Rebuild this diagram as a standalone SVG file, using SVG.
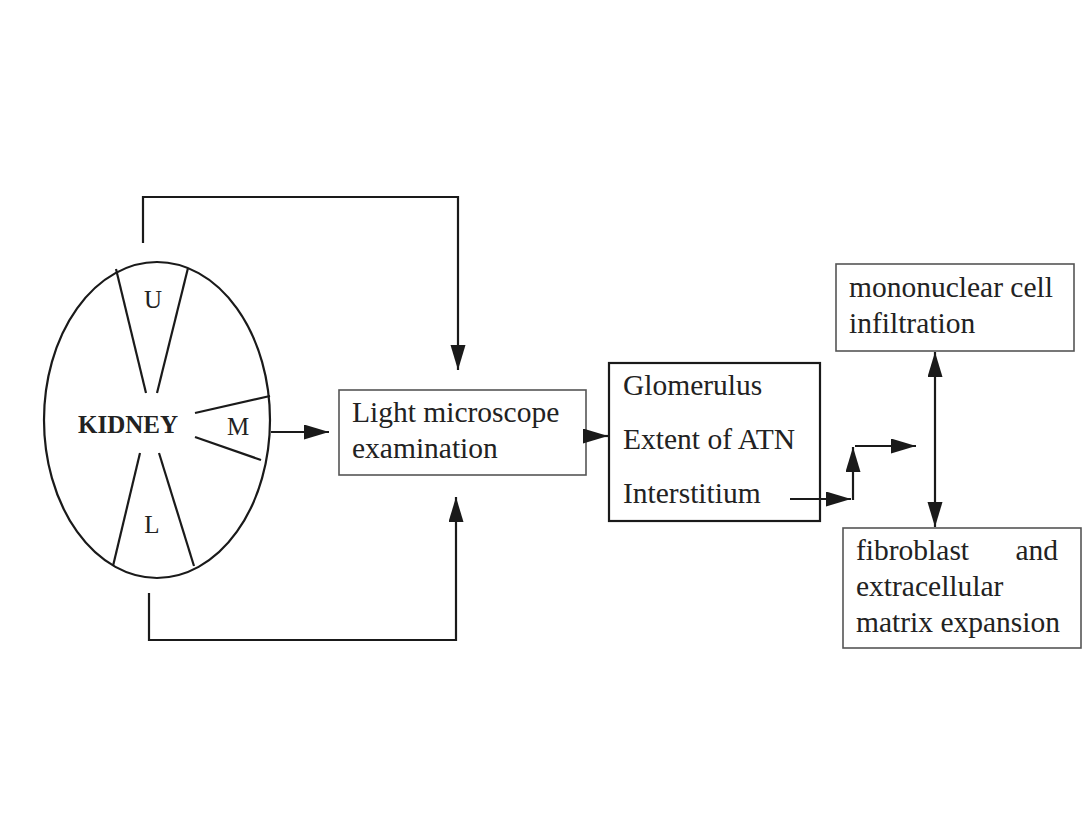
<svg xmlns="http://www.w3.org/2000/svg" width="1087" height="815" viewBox="0 0 1087 815">
<defs>
<marker id="ah" markerUnits="userSpaceOnUse" markerWidth="26" markerHeight="16" refX="25" refY="7.5" orient="auto-start-reverse">
<path d="M0,0 L25,7.5 L0,15 z" fill="#1a1a1a"/>
</marker>
</defs>
<style>
text{font-family:"Liberation Serif","Times New Roman",serif;fill:#222;font-size:29.5px}
.lbl{font-size:25px}
.bold{font-weight:bold}
.ln{stroke:#1a1a1a;stroke-width:2.2;fill:none}
.box{fill:#fff;stroke:#555;stroke-width:1.6}
.boxs{fill:#fff;stroke:#1a1a1a;stroke-width:2.2}
</style>
<rect width="1087" height="815" fill="#fff"/>
<g id="kidney">
<ellipse cx="157" cy="420" rx="113" ry="158" class="ln"/>
<line x1="116" y1="269" x2="146" y2="393" class="ln"/>
<line x1="188" y1="268" x2="157" y2="393" class="ln"/>
<line x1="195" y1="413" x2="270" y2="396" class="ln"/>
<line x1="195" y1="437" x2="261" y2="460" class="ln"/>
<line x1="140" y1="453" x2="113" y2="566" class="ln"/>
<line x1="159" y1="453" x2="194" y2="566" class="ln"/>
<text x="153" y="308" class="lbl" text-anchor="middle">U</text>
<text x="128" y="433" class="lbl bold" text-anchor="middle">KIDNEY</text>
<text x="238" y="435" class="lbl" text-anchor="middle">M</text>
<text x="152" y="533" class="lbl" text-anchor="middle">L</text>
</g>
<g id="light">
<rect x="339" y="390" width="247" height="85" class="box"/>
<text x="352" y="422">Light microscope</text>
<text x="352" y="458">examination</text>
</g>
<g id="findings">
<rect x="609" y="363" width="211" height="158" class="boxs"/>
<text x="623" y="395">Glomerulus</text>
<text x="623" y="449">Extent of ATN</text>
<text x="623" y="503">Interstitium</text>
</g>
<g id="mononuclear">
<rect x="836" y="264" width="238" height="87" class="box"/>
<text x="849" y="297">mononuclear cell</text>
<text x="849" y="333">infiltration</text>
</g>
<g id="fibroblast">
<rect x="843" y="528" width="238" height="120" class="box"/>
<text x="856" y="560">fibroblast</text>
<text x="1058" y="560" text-anchor="end">and</text>
<text x="856" y="596">extracellular</text>
<text x="856" y="632">matrix expansion</text>
</g>
<g id="connectors">
<path d="M143,243 V197 H458 V370" class="ln" marker-end="url(#ah)"/>
<path d="M149,593 V640 H456 V497" class="ln" marker-end="url(#ah)"/>
<path d="M271,432 H329" class="ln" marker-end="url(#ah)"/>
<path d="M586,436 H608" class="ln" marker-end="url(#ah)"/>
<path d="M790,499 H851" class="ln" marker-end="url(#ah)"/>
<path d="M853,500 V447" class="ln" marker-end="url(#ah)"/>
<path d="M855,446 H916" class="ln" marker-end="url(#ah)"/>
<path d="M935,352 V527" class="ln" marker-start="url(#ah)" marker-end="url(#ah)"/>
</g>
</svg>
